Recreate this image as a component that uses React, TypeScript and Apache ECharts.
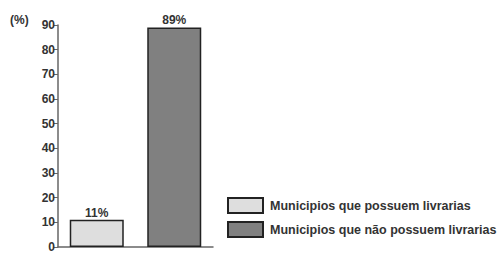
import React, { useEffect, useRef } from "react";
import * as echarts from "echarts";

const categories = ["possuem", "nao possuem"];
const seriesNames = ["Municipios que possuem livrarias", "Municipios que não possuem livrarias"];
const valuesHave = [11, "-"];
const valuesHaveNot = ["-", 89];
const yTicks = [0, 10, 20, 30, 40, 50, 60, 70, 80, 90];

export default function App() {
  const ref = useRef<HTMLDivElement>(null);
  useEffect(() => {
    const chart = echarts.init(ref.current!, null, { renderer: "svg" });
    const font = "'Liberation Sans', Arial, sans-serif";
    const label = {
      show: true,
      position: "top",
      distance: 1,
      formatter: "{c}%",
      color: "#333",
      fontWeight: "bold",
      fontSize: 12,
      fontFamily: font,
    };
    chart.setOption({
      animation: false,
      backgroundColor: "#fff",
      grid: { left: 58, right: 287, top: 25, bottom: 5 },
      graphic: [
        {
          type: "text",
          left: 10,
          top: 14,
          style: { text: "(%)", fill: "#333", font: `bold 12px ${font}` },
        },
      ],
      legend: {
        orient: "vertical",
        left: 227,
        top: 197,
        padding: 0,
        itemWidth: 35,
        itemHeight: 15,
        itemGap: 7,
        icon: "rect",
        textStyle: { color: "#333", fontWeight: "bold", fontSize: 12.5, fontFamily: font, padding: [0, 0, 0, 2] },
        data: seriesNames,
      },
      xAxis: {
        type: "category",
        data: categories,
        axisLine: { lineStyle: { color: "#666", width: 1.5 } },
        axisTick: { show: false },
        axisLabel: { show: false },
      },
      yAxis: {
        type: "value",
        min: yTicks[0],
        max: yTicks[yTicks.length - 1],
        interval: 10,
        splitLine: { show: false },
        axisLine: { show: true, lineStyle: { color: "#666", width: 1.5 } },
        axisTick: { show: true, length: 4, lineStyle: { color: "#666" } },
        axisLabel: { color: "#333", fontWeight: "bold", fontSize: 12, fontFamily: font, margin: 3 },
      },
      series: [
        {
          name: seriesNames[0],
          type: "bar",
          stack: "s",
          barWidth: 54,
          data: valuesHave,
          itemStyle: { color: "#dedede", borderColor: "#222", borderWidth: 1.5 },
          label,
        },
        {
          name: seriesNames[1],
          type: "bar",
          stack: "s",
          barWidth: 53,
          data: valuesHaveNot,
          itemStyle: { color: "#808080", borderColor: "#222", borderWidth: 1.5 },
          label,
        },
      ],
    });
    return () => chart.dispose();
  }, []);
  return <div ref={ref} style={{ width: 500, height: 253, position: "absolute", left: 0, top: 0 }} />;
}
